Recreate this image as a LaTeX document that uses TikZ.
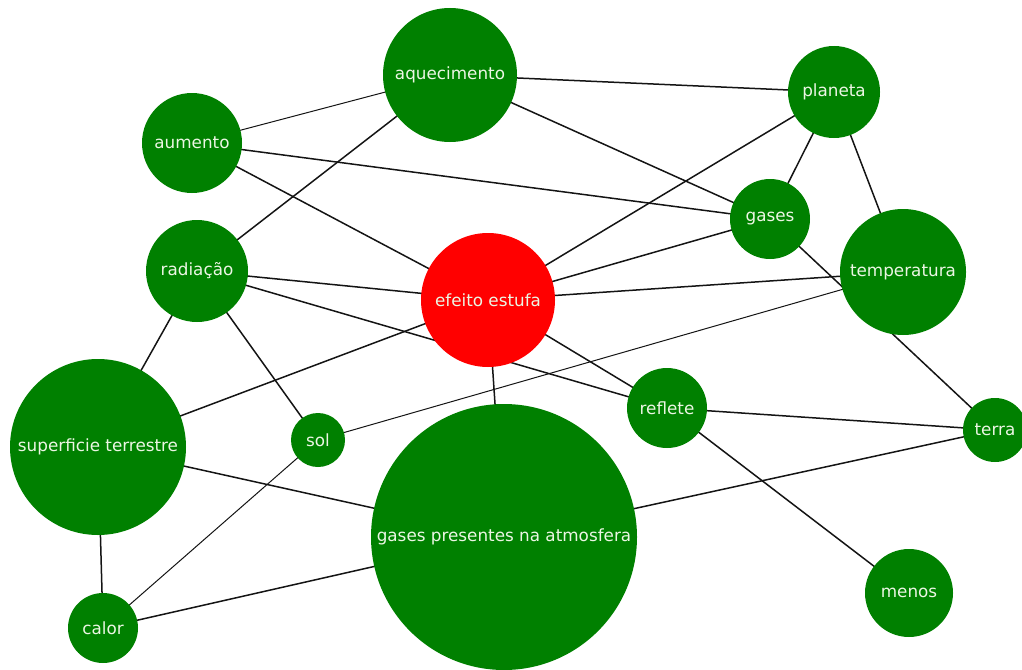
\documentclass[tikz,border=0pt]{standalone}
\usepackage{fontspec}
\setmainfont{DejaVu Sans}
\usetikzlibrary{backgrounds}
\definecolor{cgreen}{RGB}{0,128,0}
\definecolor{cred}{RGB}{255,0,0}
\definecolor{ctext}{RGB}{236,246,228}
\definecolor{cline}{RGB}{20,20,20}
\begin{document}
\begin{tikzpicture}[x=1pt,y=-1pt,
  concept/.style={circle, fill=cgreen, text=ctext, inner sep=0pt,
    font=\fontsize{16.8}{19}\selectfont},
  central/.style={concept, fill=cred},
  link/.style={draw=cline, line width=1.5pt},
  thinlink/.style={draw=cline, line width=1pt},
]
\useasboundingbox (0,0) rectangle (1022,669);

% concepts
\node[concept, minimum size=134] (aq) at (450,75)  {aquecimento};
\node[concept, minimum size=92]  (pl) at (834,92)  {planeta};
\node[concept, minimum size=100] (au) at (192,143) {aumento};
\node[concept, minimum size=80]  (ga) at (770,219) {gases};
\node[concept, minimum size=102] (ra) at (197,271) {radiação};
\node[central, minimum size=134] (ef) at (488,300) {efeito estufa};
\node[concept, minimum size=126] (te) at (903,272) {temperatura};
\node[concept, minimum size=176] (su) at (98,447)  {superficie terrestre};
\node[concept, minimum size=54]  (so) at (318,440) {sol};
\node[concept, minimum size=80]  (re) at (667,408) {reflete};
\node[concept, minimum size=64]  (tr) at (995,430) {terra};
\node[concept, minimum size=266] (gp) at (504,537) {gases presentes na atmosfera};
\node[concept, minimum size=88]  (me) at (909,593) {menos};
\node[concept, minimum size=70]  (ca) at (103,628) {calor};

% connections, drawn behind the concepts
\begin{scope}[on background layer]
  \draw[thinlink] (au.center) -- (aq.center);
  \draw[link] (aq.center) -- (pl.center);
  \draw[link] (aq.center) -- (ga.center);
  \draw[link] (aq.center) -- (ra.center);
  \draw[link] (au.center) -- (ga.center);
  \draw[link] (au.center) -- (ef.center);
  \draw[link] (pl.center) -- (ga.center);
  \draw[link] (pl.center) -- (te.center);
  \draw[link] (pl.center) -- (ef.center);
  \draw[link] (ga.center) -- (ef.center);
  \draw[link] (ga.center) -- (tr.center);
  \draw[link] (ra.center) -- (ef.center);
  \draw[link] (ra.center) -- (re.center);
  \draw[link] (ra.center) -- (so.center);
  \draw[link] (ra.center) -- (su.center);
  \draw[link] (ef.center) -- (te.center);
  \draw[link] (ef.center) -- (re.center);
  \draw[link] (ef.center) -- (su.center);
  \draw[link] (ef.center) -- (gp.center);
  \draw[thinlink] (so.center) -- (te.center);
  \draw[link] (re.center) -- (tr.center);
  \draw[link] (re.center) -- (me.center);
  \draw[link] (tr.center) -- (gp.center);
  \draw[link] (su.center) -- (gp.center);
  \draw[link] (su.center) -- (ca.center);
  \draw[thinlink] (so.center) -- (ca.center);
  \draw[link] (ca.center) -- (gp.center);
\end{scope}
\end{tikzpicture}
\end{document}
